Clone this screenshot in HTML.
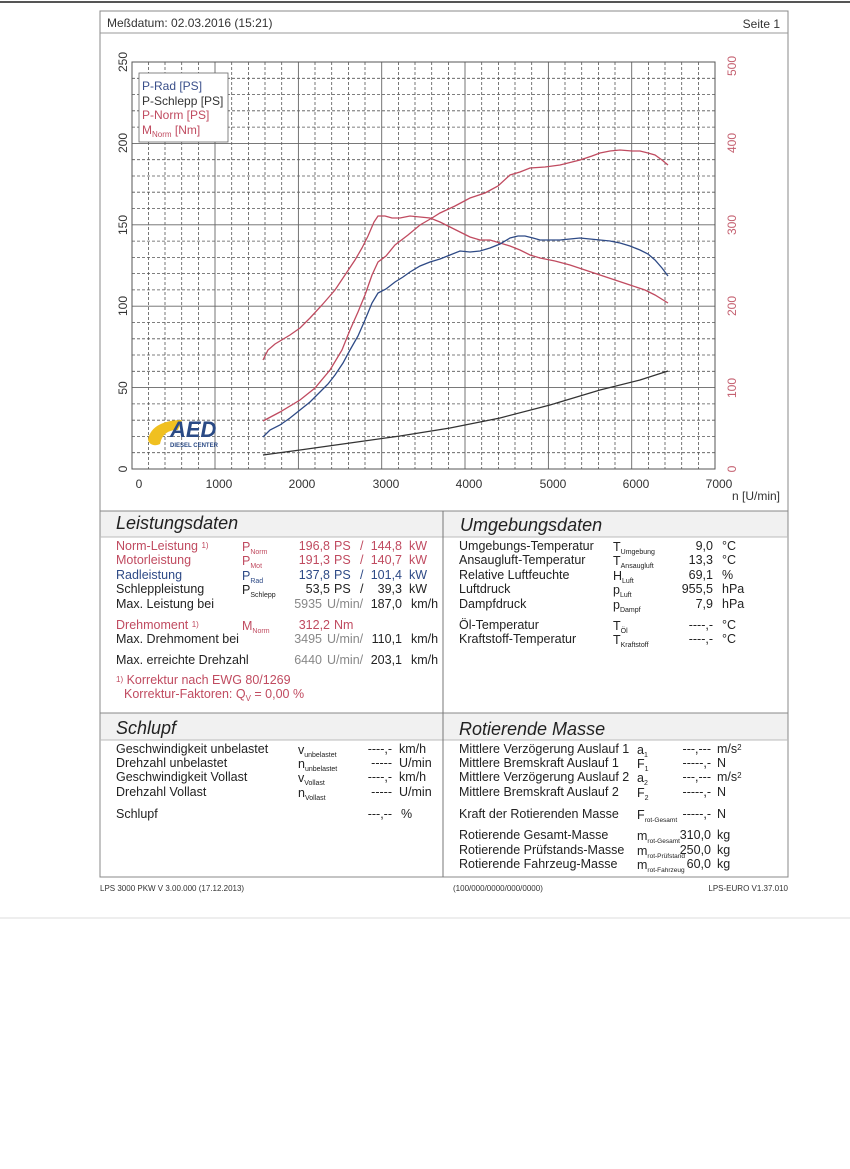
<!DOCTYPE html>
<html><head><meta charset="utf-8"><style>
html,body{margin:0;padding:0;background:#fff}
svg{display:block}
text{font-family:"Liberation Sans",sans-serif}
</style></head><body>
<svg width="850" height="1169" viewBox="0 0 850 1169" xmlns="http://www.w3.org/2000/svg">
<rect width="850" height="1169" fill="#fff"/>
<line x1="0" y1="2" x2="850" y2="2" stroke="#555" stroke-width="2"/>
<line x1="0" y1="918" x2="850" y2="918" stroke="#ddd" stroke-width="1"/>
<rect x="100" y="11" width="688" height="866" fill="none" stroke="#888" stroke-width="1"/>
<line x1="100" y1="33" x2="788" y2="33" stroke="#999"/>
<text x="107" y="27" font-size="12" fill="#333">Meßdatum: 02.03.2016 (15:21)</text>
<text x="780" y="28" font-size="12" fill="#333" text-anchor="end">Seite 1</text>

<g stroke="#555" stroke-width="0.8" stroke-dasharray="3,2">
<line x1="148.4" y1="62" x2="148.4" y2="469"/><line x1="165.0" y1="62" x2="165.0" y2="469"/><line x1="181.7" y1="62" x2="181.7" y2="469"/><line x1="198.4" y1="62" x2="198.4" y2="469"/>
<line x1="231.7" y1="62" x2="231.7" y2="469"/><line x1="248.4" y1="62" x2="248.4" y2="469"/><line x1="265.0" y1="62" x2="265.0" y2="469"/><line x1="281.7" y1="62" x2="281.7" y2="469"/>
<line x1="315.0" y1="62" x2="315.0" y2="469"/><line x1="331.7" y1="62" x2="331.7" y2="469"/><line x1="348.4" y1="62" x2="348.4" y2="469"/><line x1="365.0" y1="62" x2="365.0" y2="469"/>
<line x1="398.4" y1="62" x2="398.4" y2="469"/><line x1="415.0" y1="62" x2="415.0" y2="469"/><line x1="431.7" y1="62" x2="431.7" y2="469"/><line x1="448.4" y1="62" x2="448.4" y2="469"/>
<line x1="481.7" y1="62" x2="481.7" y2="469"/><line x1="498.4" y1="62" x2="498.4" y2="469"/><line x1="515.0" y1="62" x2="515.0" y2="469"/><line x1="531.7" y1="62" x2="531.7" y2="469"/>
<line x1="565.0" y1="62" x2="565.0" y2="469"/><line x1="581.7" y1="62" x2="581.7" y2="469"/><line x1="598.4" y1="62" x2="598.4" y2="469"/><line x1="615.0" y1="62" x2="615.0" y2="469"/>
<line x1="648.4" y1="62" x2="648.4" y2="469"/><line x1="665.0" y1="62" x2="665.0" y2="469"/><line x1="681.7" y1="62" x2="681.7" y2="469"/><line x1="698.4" y1="62" x2="698.4" y2="469"/>
<line x1="132" y1="452.7" x2="715" y2="452.7"/><line x1="132" y1="436.4" x2="715" y2="436.4"/><line x1="132" y1="420.2" x2="715" y2="420.2"/><line x1="132" y1="403.9" x2="715" y2="403.9"/>
<line x1="132" y1="371.3" x2="715" y2="371.3"/><line x1="132" y1="355.0" x2="715" y2="355.0"/><line x1="132" y1="338.8" x2="715" y2="338.8"/><line x1="132" y1="322.5" x2="715" y2="322.5"/>
<line x1="132" y1="289.9" x2="715" y2="289.9"/><line x1="132" y1="273.6" x2="715" y2="273.6"/><line x1="132" y1="257.4" x2="715" y2="257.4"/><line x1="132" y1="241.1" x2="715" y2="241.1"/>
<line x1="132" y1="208.5" x2="715" y2="208.5"/><line x1="132" y1="192.2" x2="715" y2="192.2"/><line x1="132" y1="176.0" x2="715" y2="176.0"/><line x1="132" y1="159.7" x2="715" y2="159.7"/>
<line x1="132" y1="127.1" x2="715" y2="127.1"/><line x1="132" y1="110.8" x2="715" y2="110.8"/><line x1="132" y1="94.6" x2="715" y2="94.6"/><line x1="132" y1="78.3" x2="715" y2="78.3"/>
</g>
<g stroke="#666" stroke-width="0.9">
<line x1="215" y1="62" x2="215" y2="469"/><line x1="298.4" y1="62" x2="298.4" y2="469"/><line x1="381.7" y1="62" x2="381.7" y2="469"/><line x1="465" y1="62" x2="465" y2="469"/><line x1="548.4" y1="62" x2="548.4" y2="469"/><line x1="631.7" y1="62" x2="631.7" y2="469"/>
<line x1="132" y1="387.6" x2="715" y2="387.6"/><line x1="132" y1="306.2" x2="715" y2="306.2"/><line x1="132" y1="224.8" x2="715" y2="224.8"/><line x1="132" y1="143.4" x2="715" y2="143.4"/>
</g>
<rect x="132" y="62" width="583" height="407" fill="none" stroke="#555" stroke-width="1"/>

<g font-size="12" fill="#333">
<text transform="translate(127,469) rotate(-90)" text-anchor="middle">0</text>
<text transform="translate(127,388) rotate(-90)" text-anchor="middle">50</text>
<text transform="translate(127,306) rotate(-90)" text-anchor="middle">100</text>
<text transform="translate(127,225) rotate(-90)" text-anchor="middle">150</text>
<text transform="translate(127,143) rotate(-90)" text-anchor="middle">200</text>
<text transform="translate(127,62) rotate(-90)" text-anchor="middle">250</text>
</g>
<g font-size="12" fill="#c46070">
<text transform="translate(736,469) rotate(-90)" text-anchor="middle">0</text>
<text transform="translate(736,388) rotate(-90)" text-anchor="middle">100</text>
<text transform="translate(736,306) rotate(-90)" text-anchor="middle">200</text>
<text transform="translate(736,225) rotate(-90)" text-anchor="middle">300</text>
<text transform="translate(736,143) rotate(-90)" text-anchor="middle">400</text>
<text transform="translate(736,66) rotate(-90)" text-anchor="middle">500</text>
</g>
<g font-size="12" fill="#333" text-anchor="middle">
<text x="139" y="488">0</text><text x="219" y="488">1000</text><text x="302" y="488">2000</text><text x="386" y="488">3000</text><text x="469" y="488">4000</text><text x="553" y="488">5000</text><text x="636" y="488">6000</text><text x="719" y="488">7000</text>
</g>
<text x="732" y="500" font-size="12" fill="#333">n [U/min]</text>

<rect x="139" y="73" width="89" height="69" fill="#fff" stroke="#666" stroke-width="0.8"/>
<text x="142" y="90" font-size="12" fill="#3a4f8a">P-Rad [PS]</text>
<text x="142" y="105" font-size="12" fill="#333">P-Schlepp [PS]</text>
<text x="142" y="119" font-size="12" fill="#c04b60">P-Norm [PS]</text>
<text x="142" y="134" font-size="12" fill="#c04b60">M<tspan font-size="8" dy="3">Norm</tspan><tspan dy="-3"> [Nm]</tspan></text>

<path d="M148,440 C150,426 165,420 182,420 L178,430 C168,430 162,434 160,444 C156,446 150,446 148,440 Z" fill="#f0c020"/>
<text x="170" y="437" font-size="22" font-weight="bold" fill="#2a4a85" font-style="italic">AED</text>
<text x="170" y="447" font-size="6" font-weight="bold" fill="#2a4a85">DIESEL CENTER</text>

<polyline fill="none" stroke="#c04b60" stroke-width="1.3" points="263,421 280,412 300,400 315,388 330,370 342,350 350,330 358,312 365,295 372,275 378,262 386,256 395,245 408,235 420,225 432,218 440,213 455,206 470,198 485,193 498,186 510,175 520,172 530,168 545,167 560,165 572,162 580,160 592,156 600,153 610,151 620,150 632,151 640,151 648,153 655,155 662,160 668,165"/>
<polyline fill="none" stroke="#c04b60" stroke-width="1.3" points="263,360 268,350 275,344 290,335 300,328 310,318 322,305 335,290 345,275 355,260 362,248 368,236 374,222 378,216 385,216 392,218 400,218 410,216 420,217 430,218 440,222 450,227 460,232 470,237 480,240 490,240 500,243 510,246 520,250 530,255 540,258 555,261 570,265 585,270 600,275 615,280 630,285 645,290 655,295 668,303"/>
<polyline fill="none" stroke="#2e4a86" stroke-width="1.3" points="263,437 270,430 280,425 290,418 300,410 310,402 320,392 328,384 335,375 343,363 350,350 358,336 365,320 372,303 378,293 386,289 395,282 403,277 410,272 420,266 430,262 440,259 450,255 460,251 470,252 480,251 490,248 500,244 510,238 518,236 525,236 533,238 540,240 550,240 560,240 570,239 580,238 590,239 600,240 610,241 620,243 630,246 640,250 648,254 655,260 662,268 668,276"/>
<polyline fill="none" stroke="#333" stroke-width="1.2" points="263,455 300,450 350,443 400,436 450,428 500,418 550,405 600,390 640,380 668,371"/>

<line x1="100" y1="511" x2="788" y2="511" stroke="#888"/>
<rect x="100.5" y="511.5" width="687" height="25" fill="#f1f1f1"/>
<line x1="100" y1="537" x2="788" y2="537" stroke="#bbb"/>
<line x1="100" y1="713" x2="788" y2="713" stroke="#888"/>
<rect x="100.5" y="713.5" width="687" height="26" fill="#f1f1f1"/>
<line x1="100" y1="740" x2="788" y2="740" stroke="#bbb"/>
<line x1="443" y1="511" x2="443" y2="877" stroke="#777"/>
<text x="116" y="529" font-size="18" font-style="italic" fill="#222">Leistungsdaten</text>
<text x="460" y="531" font-size="18" font-style="italic" fill="#222">Umgebungsdaten</text>
<text x="116" y="734" font-size="18" font-style="italic" fill="#222">Schlupf</text>
<text x="459" y="735" font-size="18" font-style="italic" fill="#222">Rotierende Masse</text>

<g font-size="12.5">
<g fill="#c04b60">
<text x="116" y="550">Norm-Leistung <tspan font-size="8" dy="-2">1)</tspan></text>
<text x="242" y="551">P<tspan font-size="7" dy="3">Norm</tspan></text>
<text x="330" y="550" text-anchor="end">196,8</text><text x="334" y="550">PS</text><text x="360" y="550">/</text><text x="402" y="550" text-anchor="end">144,8</text><text x="409" y="550">kW</text>
<text x="116" y="564">Motorleistung</text>
<text x="242" y="565">P<tspan font-size="7" dy="3">Mot</tspan></text>
<text x="330" y="564" text-anchor="end">191,3</text><text x="334" y="564">PS</text><text x="360" y="564">/</text><text x="402" y="564" text-anchor="end">140,7</text><text x="409" y="564">kW</text>
<text x="116" y="629">Drehmoment <tspan font-size="8" dy="-2">1)</tspan></text>
<text x="242" y="630">M<tspan font-size="7" dy="3">Norm</tspan></text>
<text x="330" y="629" text-anchor="end">312,2</text><text x="334" y="629">Nm</text>
<text x="116" y="684"><tspan font-size="8" dy="-2">1)</tspan><tspan dy="2"> Korrektur nach EWG 80/1269</tspan></text>
<text x="124" y="698">Korrektur-Faktoren: Q<tspan font-size="8" dy="3">V</tspan><tspan dy="-3"> =   0,00 %</tspan></text>
</g>
<g fill="#2e4a86">
<text x="116" y="579">Radleistung</text>
<text x="242" y="580">P<tspan font-size="7" dy="3">Rad</tspan></text>
<text x="330" y="579" text-anchor="end">137,8</text><text x="334" y="579">PS</text><text x="360" y="579">/</text><text x="402" y="579" text-anchor="end">101,4</text><text x="409" y="579">kW</text>
</g>
<g fill="#222">
<text x="116" y="593">Schleppleistung</text>
<text x="242" y="594">P<tspan font-size="7" dy="3">Schlepp</tspan></text>
<text x="330" y="593" text-anchor="end">53,5</text><text x="334" y="593">PS</text><text x="360" y="593">/</text><text x="402" y="593" text-anchor="end">39,3</text><text x="409" y="593">kW</text>
<text x="116" y="608">Max. Leistung bei</text>
<text x="116" y="643">Max. Drehmoment bei</text>
<text x="116" y="664">Max. erreichte Drehzahl</text>
<text x="402" y="608" text-anchor="end">187,0</text><text x="411" y="608">km/h</text>
<text x="402" y="643" text-anchor="end">110,1</text><text x="411" y="643">km/h</text>
<text x="402" y="664" text-anchor="end">203,1</text><text x="411" y="664">km/h</text>
</g>
<g fill="#888">
<text x="322" y="608" text-anchor="end">5935</text><text x="327" y="608">U/min/</text>
<text x="322" y="643" text-anchor="end">3495</text><text x="327" y="643">U/min/</text>
<text x="322" y="664" text-anchor="end">6440</text><text x="327" y="664">U/min/</text>
</g>

<g fill="#222">
<text x="459" y="550">Umgebungs-Temperatur</text><text x="613" y="551">T<tspan font-size="7" dy="3">Umgebung</tspan></text><text x="713" y="550" text-anchor="end">9,0</text><text x="722" y="550">°C</text>
<text x="459" y="564">Ansaugluft-Temperatur</text><text x="613" y="565">T<tspan font-size="7" dy="3">Ansaugluft</tspan></text><text x="713" y="564" text-anchor="end">13,3</text><text x="722" y="564">°C</text>
<text x="459" y="579">Relative Luftfeuchte</text><text x="613" y="580">H<tspan font-size="7" dy="3">Luft</tspan></text><text x="713" y="579" text-anchor="end">69,1</text><text x="722" y="579">%</text>
<text x="459" y="593">Luftdruck</text><text x="613" y="594">p<tspan font-size="7" dy="3">Luft</tspan></text><text x="713" y="593" text-anchor="end">955,5</text><text x="722" y="593">hPa</text>
<text x="459" y="608">Dampfdruck</text><text x="613" y="609">p<tspan font-size="7" dy="3">Dampf</tspan></text><text x="713" y="608" text-anchor="end">7,9</text><text x="722" y="608">hPa</text>
<text x="459" y="629">Öl-Temperatur</text><text x="613" y="630">T<tspan font-size="7" dy="3">Öl</tspan></text><text x="713" y="629" text-anchor="end">----,-</text><text x="722" y="629">°C</text>
<text x="459" y="643">Kraftstoff-Temperatur</text><text x="613" y="644">T<tspan font-size="7" dy="3">Kraftstoff</tspan></text><text x="713" y="643" text-anchor="end">----,-</text><text x="722" y="643">°C</text>

<text x="116" y="753">Geschwindigkeit unbelastet</text><text x="298" y="754">v<tspan font-size="7" dy="3">unbelastet</tspan></text><text x="392" y="753" text-anchor="end">----,-</text><text x="399" y="753">km/h</text>
<text x="116" y="767">Drehzahl unbelastet</text><text x="298" y="768">n<tspan font-size="7" dy="3">unbelastet</tspan></text><text x="392" y="767" text-anchor="end">-----</text><text x="399" y="767">U/min</text>
<text x="116" y="781">Geschwindigkeit Vollast</text><text x="298" y="782">v<tspan font-size="7" dy="3">Vollast</tspan></text><text x="392" y="781" text-anchor="end">----,-</text><text x="399" y="781">km/h</text>
<text x="116" y="796">Drehzahl Vollast</text><text x="298" y="797">n<tspan font-size="7" dy="3">Vollast</tspan></text><text x="392" y="796" text-anchor="end">-----</text><text x="399" y="796">U/min</text>
<text x="116" y="818">Schlupf</text><text x="392" y="818" text-anchor="end">---,--</text><text x="401" y="818">%</text>

<text x="459" y="753">Mittlere Verzögerung Auslauf 1</text><text x="637" y="754">a<tspan font-size="7" dy="3">1</tspan></text><text x="711" y="753" text-anchor="end">---,---</text><text x="717" y="753">m/s<tspan font-size="8" dy="-3">2</tspan></text>
<text x="459" y="767">Mittlere Bremskraft Auslauf 1</text><text x="637" y="768">F<tspan font-size="7" dy="3">1</tspan></text><text x="711" y="767" text-anchor="end">-----,-</text><text x="717" y="767">N</text>
<text x="459" y="781">Mittlere Verzögerung Auslauf 2</text><text x="637" y="782">a<tspan font-size="7" dy="3">2</tspan></text><text x="711" y="781" text-anchor="end">---,---</text><text x="717" y="781">m/s<tspan font-size="8" dy="-3">2</tspan></text>
<text x="459" y="796">Mittlere Bremskraft Auslauf 2</text><text x="637" y="797">F<tspan font-size="7" dy="3">2</tspan></text><text x="711" y="796" text-anchor="end">-----,-</text><text x="717" y="796">N</text>
<text x="459" y="818">Kraft der Rotierenden Masse</text><text x="637" y="819">F<tspan font-size="6.5" dy="3">rot-Gesamt</tspan></text><text x="711" y="818" text-anchor="end">-----,-</text><text x="717" y="818">N</text>
<text x="459" y="839">Rotierende Gesamt-Masse</text><text x="637" y="840">m<tspan font-size="6.5" dy="3">rot-Gesamt</tspan></text><text x="711" y="839" text-anchor="end">310,0</text><text x="717" y="839">kg</text>
<text x="459" y="854">Rotierende Prüfstands-Masse</text><text x="637" y="855">m<tspan font-size="6.5" dy="3">rot-Prüfstand</tspan></text><text x="711" y="854" text-anchor="end">250,0</text><text x="717" y="854">kg</text>
<text x="459" y="868">Rotierende Fahrzeug-Masse</text><text x="637" y="869">m<tspan font-size="6.5" dy="3">rot-Fahrzeug</tspan></text><text x="711" y="868" text-anchor="end">60,0</text><text x="717" y="868">kg</text>
</g>
</g>

<g font-size="8" fill="#333">
<text x="100" y="891">LPS 3000 PKW V 3.00.000 (17.12.2013)</text>
<text x="453" y="891">(100/000/0000/000/0000)</text>
<text x="788" y="891" text-anchor="end">LPS-EURO V1.37.010</text>
</g>
</svg>
</body></html>
